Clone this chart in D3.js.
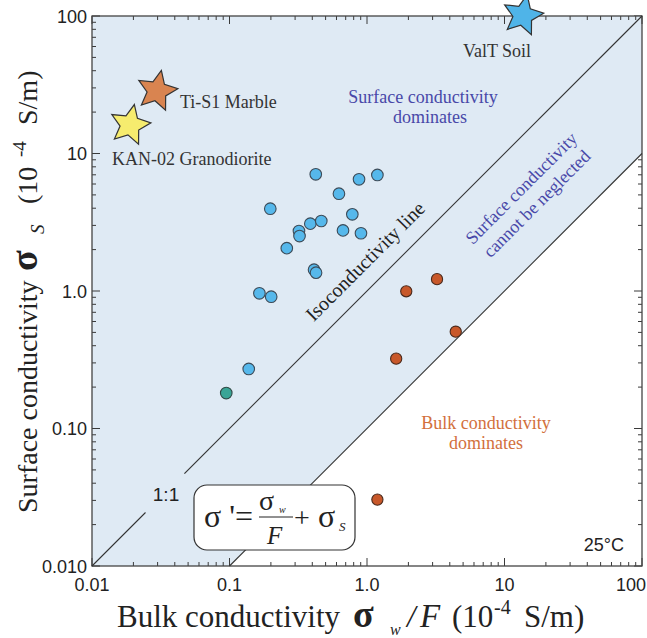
<!DOCTYPE html>
<html>
<head>
<meta charset="utf-8">
<script src="https://cdn.jsdelivr.net/npm/d3@7"></script>
<style>
  html, body { margin: 0; padding: 0; background: #ffffff; }
  svg { display: block; }
</style>
</head>
<body>
<script>
// Axis extents and tick labels (units of 1e-4 S/m)
const xDomain = [0.01, 100];
const yDomain = [0.01, 100];
const xTickValues = [0.01, 0.1, 1, 10, 100];
const xTickLabels = ["0.01", "0.1", "1.0", "10", "100"];
const yTickValues = [0.01, 0.1, 1, 10, 100];
const yTickLabels = ["0.010", "0.10", "1.0", "10", "100"];

// Samples where surface conductivity dominates
const surfaceBulk = [0.424, 0.875, 1.19, 0.625, 0.198, 0.782, 0.387, 0.465, 0.669, 0.904, 0.320, 0.323, 0.261, 0.412, 0.426, 0.165, 0.201, 0.138];
const surfaceSurf = [7.06, 6.49, 6.98, 5.10, 3.97, 3.61, 3.09, 3.23, 2.76, 2.63, 2.73, 2.51, 2.05, 1.43, 1.36, 0.962, 0.909, 0.271];

// Single teal sample
const tealBulk = [0.0947];
const tealSurf = [0.181];

// Samples where bulk conductivity matters
const bulkBulk = [3.23, 1.93, 4.42, 1.63, 1.19];
const bulkSurf = [1.22, 0.995, 0.506, 0.322, 0.0304];

// Named reference materials (stars)
const starNames = ["Ti-S1 Marble", "KAN-02 Granodiorite", "ValT Soil"];
const starBulk = [0.0297, 0.0189, 13.6];
const starSurf = [28.5, 16.1, 101];
const starColors = ["#d98450", "#f6ec6e", "#4fb4e8"];

// Ratio lines: sigma_S = ratio * sigma_w/F
const isoRatio = 1;
const neglectRatio = 0.1;

const W = 647, H = 638;
const svg = d3.select("body").append("svg").attr("width", W).attr("height", H);

const x = d3.scaleLog().domain(xDomain).range([92, 642]);
const y = d3.scaleLog().domain(yDomain).range([566, 16]);
const [xL, xR] = x.range();
const [yB, yT0] = y.range();

const serif = "'Liberation Serif', 'Times New Roman', serif";
const sans = "'Liberation Sans', Arial, sans-serif";

// Log ticks: 1..9 in each decade, decade starts are major
function logTicks(scale) {
  const out = [];
  const [a, b] = scale.domain();
  for (let e = Math.log10(a); e < Math.log10(b) - 1e-9; e++) {
    for (let k = 1; k <= 9; k++) out.push({ v: k * Math.pow(10, e), major: k === 1 });
  }
  out.push({ v: b, major: true });
  return out;
}
const tickCol = "#3a3a3a";
const yTicks = logTicks(y);
const xTicks = logTicks(x);

// Right-side inward ticks (partly covered by the shaded band)
svg.append("g").selectAll("line").data(yTicks).join("line")
  .attr("x1", xR).attr("x2", d => xR - (d.major ? 8 : 4))
  .attr("y1", d => y(d.v)).attr("y2", d => y(d.v))
  .attr("stroke", tickCol).attr("stroke-width", 1);

// Shaded band: everything above the lower ratio line
const band = [
  [xDomain[0], yDomain[0]],
  [yDomain[0] / neglectRatio, yDomain[0]],
  [xDomain[1], xDomain[1] * neglectRatio],
  [xDomain[1], yDomain[1]],
  [xDomain[0], yDomain[1]]
];
svg.append("path")
  .attr("d", d3.line().x(d => x(d[0])).y(d => y(d[1]))(band) + "Z")
  .attr("fill", "#dfeaf4");

// Left, bottom, top inward ticks
svg.append("g").selectAll("line").data(yTicks).join("line")
  .attr("x1", xL).attr("x2", d => xL + (d.major ? 8 : 4))
  .attr("y1", d => y(d.v)).attr("y2", d => y(d.v))
  .attr("stroke", tickCol).attr("stroke-width", 1);
svg.append("g").selectAll("line").data(xTicks).join("line")
  .attr("y1", yB).attr("y2", d => yB - (d.major ? 8 : 4))
  .attr("x1", d => x(d.v)).attr("x2", d => x(d.v))
  .attr("stroke", tickCol).attr("stroke-width", 1);
svg.append("g").selectAll("line").data(xTicks).join("line")
  .attr("y1", yT0).attr("y2", d => yT0 + (d.major ? 8 : 4))
  .attr("x1", d => x(d.v)).attr("x2", d => x(d.v))
  .attr("stroke", tickCol).attr("stroke-width", 1);

// Frame
svg.append("rect").attr("x", xL).attr("y", yT0).attr("width", xR - xL).attr("height", yB - yT0)
  .attr("fill", "none").attr("stroke", "#444").attr("stroke-width", 1.3);

// Isoconductivity (1:1) line, broken around its "1:1" label
const lineCol = "#333";
const isoGap = [0.0245, 0.047];
[[xDomain[0], isoGap[0]], [isoGap[1], xDomain[1]]].forEach(seg => {
  svg.append("line")
    .attr("x1", x(seg[0])).attr("y1", y(seg[0] * isoRatio))
    .attr("x2", x(seg[1])).attr("y2", y(seg[1] * isoRatio))
    .attr("stroke", lineCol).attr("stroke-width", 1.1);
});
// Lower ratio line
svg.append("line")
  .attr("x1", x(yDomain[0] / neglectRatio)).attr("y1", y(yDomain[0]))
  .attr("x2", x(xDomain[1])).attr("y2", y(xDomain[1] * neglectRatio))
  .attr("stroke", lineCol).attr("stroke-width", 1.1);

// Tick labels
svg.append("g").selectAll("text").data(xTickValues).join("text")
  .attr("x", (d, i) => i === xTickValues.length - 1 ? 646 : x(d))
  .attr("y", 591)
  .attr("text-anchor", (d, i) => i === xTickValues.length - 1 ? "end" : "middle")
  .attr("font-family", sans).attr("font-size", 18).attr("fill", "#222")
  .text((d, i) => xTickLabels[i]);
svg.append("g").selectAll("text").data(yTickValues).join("text")
  .attr("x", 87).attr("y", d => y(d) + 6.5)
  .attr("text-anchor", "end")
  .attr("font-family", sans).attr("font-size", 18).attr("fill", "#222")
  .text((d, i) => yTickLabels[i]);

// Region annotations
const blueText = "#4848a8";
const orangeText = "#d2703c";
const t1 = svg.append("text").attr("font-family", serif).attr("font-size", 18).attr("fill", blueText).attr("text-anchor", "middle");
t1.append("tspan").attr("x", 423).attr("y", 103).text("Surface conductivity");
t1.append("tspan").attr("x", 430).attr("y", 123).text("dominates");

const t2 = svg.append("text").attr("font-family", serif).attr("font-size", 18).attr("fill", blueText)
  .attr("text-anchor", "middle").attr("transform", "translate(529,196) rotate(-45)");
t2.append("tspan").attr("x", 0).attr("y", -5).text("Surface conductivity");
t2.append("tspan").attr("x", 0).attr("y", 17).text("cannot be neglected");

const t3 = svg.append("text").attr("font-family", serif).attr("font-size", 18).attr("fill", orangeText).attr("text-anchor", "middle");
t3.append("tspan").attr("x", 486).attr("y", 429).text("Bulk conductivity");
t3.append("tspan").attr("x", 486).attr("y", 449).text("dominates");

svg.append("text").attr("font-family", serif).attr("font-size", 20).attr("fill", "#222")
  .attr("text-anchor", "middle").attr("transform", "translate(370,266) rotate(-45)")
  .text("Isoconductivity line");

svg.append("text").attr("font-family", sans).attr("font-size", 19).attr("fill", "#222")
  .attr("x", 166).attr("y", 501).attr("text-anchor", "middle").text("1:1");

svg.append("text").attr("font-family", sans).attr("font-size", 18).attr("fill", "#222")
  .attr("x", 624).attr("y", 551).attr("text-anchor", "end").text("25°C");

// Equation box
const eq = svg.append("g");
eq.append("rect").attr("x", 194).attr("y", 485).attr("width", 161).attr("height", 65).attr("rx", 13)
  .attr("fill", "#ffffff").attr("stroke", "#333").attr("stroke-width", 1.2);
eq.append("text").attr("font-family", serif).attr("font-size", 32).attr("fill", "#222")
  .attr("x", 204).attr("y", 527).text("σ '=");
eq.append("text").attr("font-family", serif).attr("font-size", 28).attr("fill", "#222")
  .attr("x", 259).attr("y", 510).text("σ");
eq.append("text").attr("font-family", serif).attr("font-size", 10).attr("font-style", "italic").attr("fill", "#222")
  .attr("x", 279).attr("y", 513).text("w");
eq.append("line").attr("x1", 259).attr("x2", 293).attr("y1", 517).attr("y2", 517).attr("stroke", "#222").attr("stroke-width", 1);
eq.append("text").attr("font-family", serif).attr("font-size", 25).attr("font-style", "italic").attr("fill", "#222")
  .attr("x", 267).attr("y", 544).text("F");
eq.append("text").attr("font-family", serif).attr("font-size", 28).attr("fill", "#222")
  .attr("x", 294).attr("y", 527).text("+");
eq.append("text").attr("font-family", serif).attr("font-size", 32).attr("fill", "#222")
  .attr("x", 318).attr("y", 527).text("σ");
eq.append("text").attr("font-family", serif).attr("font-size", 13).attr("font-style", "italic").attr("fill", "#222")
  .attr("x", 339).attr("y", 531).text("S");

// Data points
function dots(bx, sy, fill, stroke, r) {
  svg.append("g").selectAll("circle").data(bx.map((b, i) => [b, sy[i]])).join("circle")
    .attr("cx", d => x(d[0])).attr("cy", d => y(d[1])).attr("r", r)
    .attr("fill", fill).attr("stroke", stroke).attr("stroke-width", 1.1);
}
dots(surfaceBulk, surfaceSurf, "#56b8eb", "#3c4b58", 5.8);
dots(tealBulk, tealSurf, "#3aa596", "#2f4a46", 5.8);
dots(bulkBulk, bulkSurf, "#c8582a", "#4a2a1c", 5.6);

// Star markers
function starPath(R, r, rot) {
  const pts = [];
  for (let i = 0; i < 10; i++) {
    const rad = i % 2 === 0 ? R : r;
    const a = (rot - 90 + i * 36) * Math.PI / 180;
    pts.push([rad * Math.cos(a), rad * Math.sin(a)]);
  }
  return "M" + pts.map(p => p.join(",")).join("L") + "Z";
}
svg.append("g").selectAll("path").data(starNames).join("path")
  .attr("d", starPath(21, 10, 12))
  .attr("transform", (d, i) => `translate(${x(starBulk[i])},${y(starSurf[i])})`)
  .attr("fill", (d, i) => starColors[i]).attr("stroke", "#333").attr("stroke-width", 1.2)
  .attr("stroke-linejoin", "miter");

// Star labels
const labelPos = [[180, 108, "start"], [112, 165, "start"], [497, 57, "middle"]];
svg.append("g").selectAll("text").data(starNames).join("text")
  .attr("x", (d, i) => labelPos[i][0]).attr("y", (d, i) => labelPos[i][1])
  .attr("text-anchor", (d, i) => labelPos[i][2])
  .attr("font-family", serif).attr("font-size", 18).attr("fill", "#333")
  .text(d => d);

// Axis titles
const xt = svg.append("text").attr("font-family", serif).attr("font-size", 31).attr("fill", "#222")
  .attr("y", 627);
xt.append("tspan").attr("x", 117).text("Bulk conductivity");
xt.append("tspan").attr("x", 353).attr("font-size", 38).attr("font-weight", "bold").text("σ");
xt.append("tspan").attr("x", 390).attr("dy", 8).attr("font-size", 16).attr("font-style", "italic").text("w");
xt.append("tspan").attr("x", 407).attr("dy", -8).attr("font-style", "italic").text("/");
xt.append("tspan").attr("x", 420).attr("font-style", "italic").attr("font-size", 33).text("F");
xt.append("tspan").attr("x", 452).text("(10");
xt.append("tspan").attr("x", 494).attr("dy", -13).attr("font-size", 20).text("-4");
xt.append("tspan").attr("x", 524).attr("dy", 13).text("S/m)");

// Rotated y title: positions measured along the text from its start
const yt = svg.append("text").attr("font-family", serif).attr("font-size", 28).attr("fill", "#222")
  .attr("transform", "translate(37,513) rotate(-90)").attr("y", 0);
yt.append("tspan").attr("x", 0).text("Surface conductivity");
yt.append("tspan").attr("x", 242).attr("font-size", 38).attr("font-weight", "bold").text("σ");
yt.append("tspan").attr("x", 279).attr("dy", 7).attr("font-size", 19).attr("font-style", "italic").text("S");
yt.append("tspan").attr("x", 309).attr("dy", -7).text("(10");
yt.append("tspan").attr("x", 356).attr("dy", -11).attr("font-size", 19).text("-4");
yt.append("tspan").attr("x", 388).attr("dy", 11).text("S/m)");
</script>
</body>
</html>
